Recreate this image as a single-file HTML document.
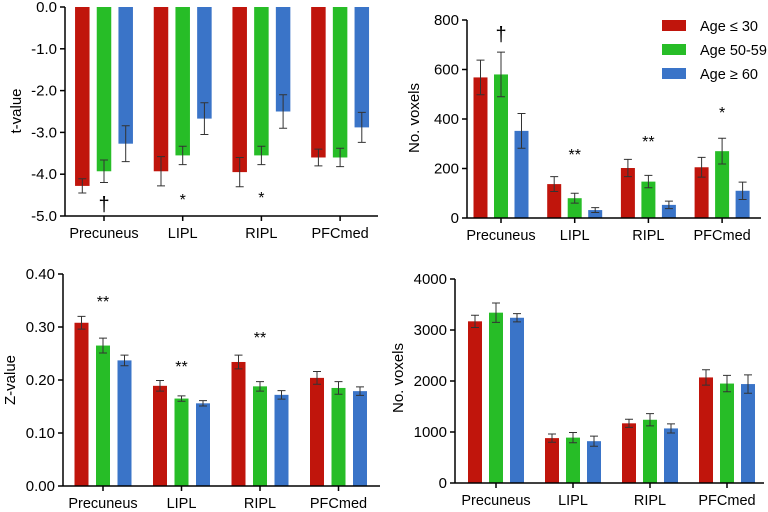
<!DOCTYPE html>
<html><head><meta charset="utf-8">
<style>
html,body{margin:0;padding:0;background:#fff;}
svg{display:block;font-family:"Liberation Sans",sans-serif;}
</style></head>
<body>
<svg id="fig" width="768" height="512" viewBox="0 0 768 512"></svg>
<script>
const categories = ["Precuneus","LIPL","RIPL","PFCmed"];
const seriesNames = ["Age \u2264 30","Age 50-59","Age \u2265 60"];
const colors = ["#c0150c","#27bd27","#3a74c8"];

const tVals = [[-4.28,-3.93,-3.95,-3.6],[-3.93,-3.55,-3.55,-3.6],[-3.27,-2.67,-2.5,-2.88]];
const tErr  = [[0.17,0.35,0.35,0.2],[0.27,0.22,0.22,0.22],[0.43,0.38,0.4,0.36]];
const tTicks = [0,-1,-2,-3,-4,-5];
const tTickLabels = ["0.0","-1.0","-2.0","-3.0","-4.0","-5.0"];

const nVals = [[568,137,202,205],[580,80,147,270],[352,32,53,110]];
const nErr  = [[70,30,35,40],[90,20,25,52],[70,10,15,35]];
const nTicks = [0,200,400,600,800];

const zVals = [[0.308,0.189,0.234,0.204],[0.265,0.165,0.188,0.185],[0.237,0.156,0.172,0.179]];
const zErr  = [[0.012,0.01,0.013,0.012],[0.014,0.005,0.009,0.012],[0.01,0.005,0.008,0.008]];
const zTicks = [0,0.1,0.2,0.3,0.4];
const zTickLabels = ["0.00","0.10","0.20","0.30","0.40"];

const vVals = [[3170,880,1170,2070],[3340,890,1240,1950],[3240,820,1070,1940]];
const vErr  = [[120,80,80,150],[190,100,120,160],[80,100,90,180]];
const vTicks = [0,1000,2000,3000,4000];

const NS="http://www.w3.org/2000/svg";
const svg=document.getElementById('fig');
function el(tag,attrs,parent){const e=document.createElementNS(NS,tag);for(const k in attrs)e.setAttribute(k,attrs[k]);(parent||svg).appendChild(e);return e;}

function panel(o){
  const g=el('g',{});
  
  
  const y=v=>o.y0+(v-o.v0)*(o.y1-o.y0)/(o.v1-o.v0);
  const cx=i=>o.cx0+i*o.step;
  // bars
  for(let s=0;s<3;s++){
    for(let i=0;i<categories.length;i++){
      const v=o.vals[s][i], e=o.err[s][i];
      const x=cx(i)+(s-1)*o.gap-o.bw/2;
      const yb=y(o.base), yv=y(v);
      const r=el('rect',{x:x,y:Math.min(yb,yv),width:o.bw,height:Math.abs(yv-yb),fill:colors[s]},g);
      
      
      const xc=x+o.bw/2;
      const eb=el('path',{d:`M${xc},${y(v-e)}V${y(v+e)}M${xc-4},${y(v-e)}H${xc+4}M${xc-4},${y(v+e)}H${xc+4}`,stroke:'#333',fill:'none','stroke-width':1},g);
      
      
    }
  }
  // axes
  const ax=el('path',{d:`M${o.xl},${y(o.ticks[0])}V${y(o.ticks[o.ticks.length-1])}`,stroke:'#000','stroke-width':1.5,fill:'none'},g);
  
  
  const xa=el('path',{d:`M${o.xl},${o.xaxisY}H${o.xr}`,stroke:'#000','stroke-width':1.5,fill:'none'},g);
  
  
  o.ticks.forEach((t,k)=>{
    el('path',{d:`M${o.xl-5},${y(t)}H${o.xl}`,stroke:'#000','stroke-width':1.5},g);
    const tx=el('text',{x:o.xl-8,y:y(t)+5,'text-anchor':'end','font-size':15,fill:'#000'},g);
    tx.textContent=o.tickLabels?o.tickLabels[k]:String(t);
    
    
  });
  categories.forEach((c,i)=>{
    el('path',{d:`M${cx(i)},${o.xaxisY}V${o.xaxisY+5}`,stroke:'#000','stroke-width':1.5},g);
    const tx=el('text',{x:cx(i),y:o.xaxisY+22,'text-anchor':'middle','font-size':14.5,fill:'#000'},g);
    tx.textContent=c;
    
    
  });
  const yt=el('text',{transform:`translate(${o.ytx},${o.yty}) rotate(-90)`,'text-anchor':'middle','font-size':15,fill:'#000'},g);
  yt.textContent=o.ytitle;
  
  
  o.marks.forEach(m=>{
    const tx=el('text',{x:cx(m[0]),y:m[1],'text-anchor':'middle','font-size':m[2]==='\u2020'?20:16,fill:'#000'},g);
    tx.textContent=m[2];
    
    
  });
}

panel({name:'t-value-chart',vals:tVals,err:tErr,ticks:tTicks,tickLabels:tTickLabels,v0:0,v1:-5,y0:7,y1:216,base:0,xaxisY:216,
  xl:65,xr:378,cx0:104,step:78.7,gap:21.7,bw:14.5,ytitle:'t-value',ytx:21,yty:111,
  marks:[[0,211,'\u2020'],[1,205,'*'],[2,203,'*']]});
panel({name:'t-voxels-chart',vals:nVals,err:nErr,ticks:nTicks,v0:0,v1:800,y0:218,y1:20,base:0,xaxisY:218,
  xl:467,xr:761,cx0:501,step:73.7,gap:20.5,bw:14,ytitle:'No. voxels',ytx:419,yty:118,
  marks:[[0,41,'\u2020'],[1,160,'**'],[2,147,'**'],[3,118,'*']]});
panel({name:'z-value-chart',vals:zVals,err:zErr,ticks:zTicks,tickLabels:zTickLabels,v0:0,v1:0.4,y0:486,y1:274,base:0,xaxisY:486,
  xl:63,xr:380,cx0:103,step:78.5,gap:21.5,bw:14,ytitle:'Z-value',ytx:15,yty:380,
  marks:[[0,307,'**'],[1,372,'**'],[2,343,'**']]});
panel({name:'z-voxels-chart',vals:vVals,err:vErr,ticks:vTicks,v0:0,v1:4000,y0:483,y1:279,base:0,xaxisY:483,
  xl:455,xr:764,cx0:496,step:77,gap:21,bw:14,ytitle:'No. voxels',ytx:403,yty:378,
  marks:[]});

// legend
const lg=el('g',{});


seriesNames.forEach((n,s)=>{
  const yy=20+s*24;
  const r=el('rect',{x:662,y:yy,width:24,height:11,fill:colors[s]},lg);
  
  
  const t=el('text',{x:700,y:yy+11,'font-size':14.5,fill:'#000'},lg);
  t.textContent=n;
  
  
});
</script>
</body></html>
